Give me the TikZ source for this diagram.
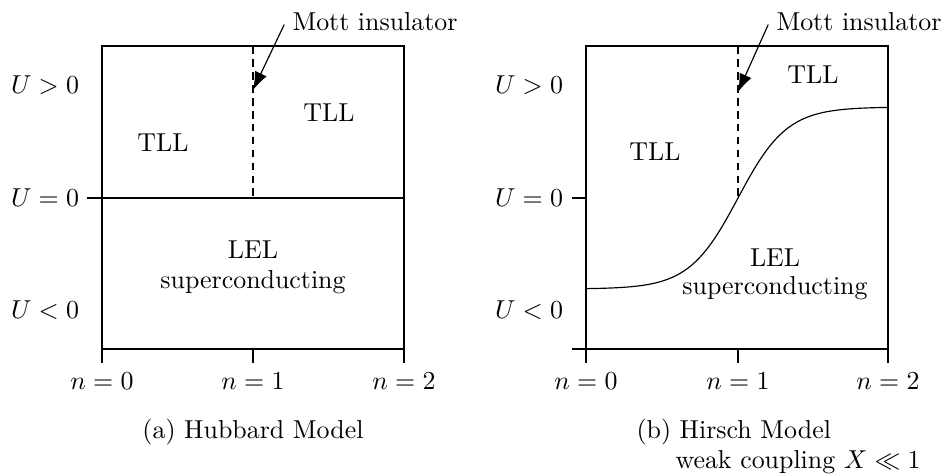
\documentclass[tikz,border=0pt]{standalone}
\usetikzlibrary{arrows.meta}
\begin{document}
\begin{tikzpicture}[x=0.3861pt,y=-0.3861pt,
  frame/.style={line width=0.9pt},
  inner/.style={line width=0.45pt},
  mottline/.style={line width=0.45pt,dash pattern=on 3pt off 2pt},
  pointer/.style={line width=0.45pt,-{Latex[length=7pt,width=5pt]}},
  lbl/.style={inner sep=0pt}]
\useasboundingbox (0,0) rectangle (946,475);

% ---------- panel (a) ----------
\draw[frame] (102,46) rectangle (404,349);
\coordinate (aT0) at (102,349); \coordinate (aB0) at (102,363);
\coordinate (aT1) at (253,349); \coordinate (aB1) at (253,363);
\coordinate (aT2) at (404,349); \coordinate (aB2) at (404,363);
\draw[frame] (aT0) -- (aB0) (aT1) -- (aB1) (aT2) -- (aB2);
\coordinate (aU0r) at (102,198); \coordinate (aU0l) at (87,198);
\draw[frame] (aU0l) -- (aU0r);
\coordinate (aUr) at (404,198);
\draw[inner] (aU0r) -- (aUr);
\coordinate (aDtop) at (253,46); \coordinate (aDbot) at (253,198);
\draw[mottline] (aDtop) -- (aDbot);

\node[lbl] (aUp) at (45,85) {$U>0$};
\node[lbl] (aUz) at (45,198) {$U=0$};
\node[lbl] (aUm) at (45,310) {$U<0$};
\node[lbl] (an0) at (102,381) {$n=0$};
\node[lbl] (an1) at (253,381) {$n=1$};
\node[lbl] (an2) at (404,381) {$n=2$};
\node[lbl] (aTLL1) at (163,143) {TLL};
\node[lbl] (aTLL2) at (329,113) {TLL};
\node[lbl] (aLEL) at (253,250) {LEL};
\node[lbl] (aSC) at (253,282) {superconducting};
\node[lbl,anchor=west] (aMott) at (292,22) {Mott insulator};
\coordinate (aTip) at (253,90);
\draw[pointer] ([xshift=-3pt,yshift=-1pt]aMott.west) -- (aTip);
\node[lbl] (aCap) at (253,432) {(a) Hubbard Model};

% ---------- panel (b) ----------
\draw[frame] (586,46) rectangle (888,349);
\coordinate (bT0) at (586,349); \coordinate (bB0) at (586,363);
\coordinate (bT1) at (738,349); \coordinate (bB1) at (738,363);
\coordinate (bT2) at (888,349); \coordinate (bB2) at (888,363);
\draw[frame] (bT0) -- (bB0) (bT1) -- (bB1) (bT2) -- (bB2);
\coordinate (bU0r) at (586,198); \coordinate (bU0l) at (572,198);
\draw[frame] (bU0l) -- (bU0r);
\coordinate (bLl) at (572,349);
\draw[frame] (bLl) -- (bT0);
\coordinate (bDtop) at (738,46); \coordinate (bDbot) at (738,198);
\draw[mottline] (bDtop) -- (bDbot);
\draw[inner] plot[domain=586:888,samples=90,smooth] (\x,{198-91*tanh((\x-738)/49)});

\node[lbl] (bUp) at (529,85) {$U>0$};
\node[lbl] (bUz) at (529,198) {$U=0$};
\node[lbl] (bUm) at (529,310) {$U<0$};
\node[lbl] (bn0) at (586,381) {$n=0$};
\node[lbl] (bn1) at (738,381) {$n=1$};
\node[lbl] (bn2) at (888,381) {$n=2$};
\node[lbl] (bTLL1) at (655,152) {TLL};
\node[lbl] (bTLL2) at (813,75) {TLL};
\node[lbl] (bLEL) at (775,258) {LEL};
\node[lbl] (bSC) at (775,288) {superconducting};
\node[lbl,anchor=west] (bMott) at (776,22) {Mott insulator};
\coordinate (bTip) at (738,92);
\draw[pointer] ([xshift=-3pt,yshift=-1pt]bMott.west) -- (bTip);
\node[lbl,anchor=west] (bCap) at (636,432) {(b) Hirsch Model};
\node[lbl,anchor=west] (bCap2) at (675,462) {weak coupling $X\ll 1$};
\end{tikzpicture}
\end{document}
